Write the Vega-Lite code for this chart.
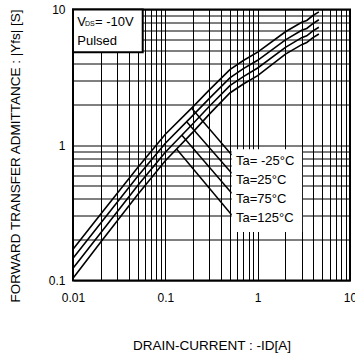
{
  "$schema": "https://vega.github.io/schema/vega-lite/v6.json",
  "width": 277,
  "height": 271,
  "autosize": {"type": "none"},
  "padding": {"left": 73, "top": 9.5, "right": 5, "bottom": 77.5},
  "background": "white",
  "config": {
    "font": "Liberation Sans",
    "view": {"stroke": "black", "strokeWidth": 2},
    "axis": {
      "grid": true, "gridColor": "black", "gridOpacity": 1, "gridWidth": 1,
      "domain": false, "ticks": false,
      "labelColor": "black", "titleColor": "black",
      "labelFont": "Liberation Sans", "titleFont": "Liberation Sans",
      "labelFontSize": 12, "titleFontSize": 13.5, "titleFontWeight": "normal",
      "labelOverlap": false, "labelFlush": false
    }
  },
  "datasets": {
    "curves": [
      {"Id": 0.01, "Yfs": 0.17, "Ta": "-25"}, {"Id": 0.02, "Yfs": 0.31, "Ta": "-25"}, {"Id": 0.05, "Yfs": 0.68, "Ta": "-25"}, {"Id": 0.1, "Yfs": 1.2, "Ta": "-25"}, {"Id": 0.2, "Yfs": 1.92, "Ta": "-25"}, {"Id": 0.3, "Yfs": 2.55, "Ta": "-25"}, {"Id": 0.5, "Yfs": 3.6, "Ta": "-25"}, {"Id": 0.7, "Yfs": 4.2, "Ta": "-25"}, {"Id": 1, "Yfs": 4.85, "Ta": "-25"}, {"Id": 2, "Yfs": 6.85, "Ta": "-25"}, {"Id": 3, "Yfs": 8.05, "Ta": "-25"}, {"Id": 3.4, "Yfs": 8.3, "Ta": "-25"}, {"Id": 3.9, "Yfs": 8.95, "Ta": "-25"}, {"Id": 4.6, "Yfs": 9.6, "Ta": "-25"},
      {"Id": 0.01, "Yfs": 0.146, "Ta": "25"}, {"Id": 0.02, "Yfs": 0.266, "Ta": "25"}, {"Id": 0.05, "Yfs": 0.585, "Ta": "25"}, {"Id": 0.1, "Yfs": 1.03, "Ta": "25"}, {"Id": 0.2, "Yfs": 1.66, "Ta": "25"}, {"Id": 0.3, "Yfs": 2.21, "Ta": "25"}, {"Id": 0.5, "Yfs": 3.13, "Ta": "25"}, {"Id": 0.7, "Yfs": 3.66, "Ta": "25"}, {"Id": 1, "Yfs": 4.22, "Ta": "25"}, {"Id": 2, "Yfs": 5.97, "Ta": "25"}, {"Id": 3, "Yfs": 7.02, "Ta": "25"}, {"Id": 3.4, "Yfs": 7.25, "Ta": "25"}, {"Id": 3.9, "Yfs": 7.8, "Ta": "25"}, {"Id": 4.6, "Yfs": 8.4, "Ta": "25"},
      {"Id": 0.01, "Yfs": 0.123, "Ta": "75"}, {"Id": 0.02, "Yfs": 0.225, "Ta": "75"}, {"Id": 0.05, "Yfs": 0.5, "Ta": "75"}, {"Id": 0.1, "Yfs": 0.885, "Ta": "75"}, {"Id": 0.2, "Yfs": 1.44, "Ta": "75"}, {"Id": 0.3, "Yfs": 1.93, "Ta": "75"}, {"Id": 0.5, "Yfs": 2.74, "Ta": "75"}, {"Id": 0.7, "Yfs": 3.2, "Ta": "75"}, {"Id": 1, "Yfs": 3.7, "Ta": "75"}, {"Id": 2, "Yfs": 5.25, "Ta": "75"}, {"Id": 3, "Yfs": 6.2, "Ta": "75"}, {"Id": 3.4, "Yfs": 6.4, "Ta": "75"}, {"Id": 3.9, "Yfs": 6.9, "Ta": "75"}, {"Id": 4.6, "Yfs": 7.4, "Ta": "75"},
      {"Id": 0.01, "Yfs": 0.104, "Ta": "125"}, {"Id": 0.02, "Yfs": 0.192, "Ta": "125"}, {"Id": 0.05, "Yfs": 0.43, "Ta": "125"}, {"Id": 0.1, "Yfs": 0.765, "Ta": "125"}, {"Id": 0.2, "Yfs": 1.25, "Ta": "125"}, {"Id": 0.3, "Yfs": 1.69, "Ta": "125"}, {"Id": 0.5, "Yfs": 2.42, "Ta": "125"}, {"Id": 0.7, "Yfs": 2.82, "Ta": "125"}, {"Id": 1, "Yfs": 3.25, "Ta": "125"}, {"Id": 2, "Yfs": 4.68, "Ta": "125"}, {"Id": 3, "Yfs": 5.5, "Ta": "125"}, {"Id": 3.4, "Yfs": 5.7, "Ta": "125"}, {"Id": 3.9, "Yfs": 6.15, "Ta": "125"}, {"Id": 4.6, "Yfs": 6.6, "Ta": "125"}
    ],
    "leaders": [
      {"x": 0.193, "y": 1.866, "x2": 0.524, "y2": 0.844},
      {"x": 0.171, "y": 1.48, "x2": 0.524, "y2": 0.618},
      {"x": 0.151, "y": 1.18, "x2": 0.524, "y2": 0.44},
      {"x": 0.133, "y": 0.93, "x2": 0.524, "y2": 0.304}
    ],
    "labelbox": [{"x": 0.524, "x2": 3.03, "y": 0.228, "y2": 0.93}],
    "labels": [
      {"x": 0.583, "y": 0.762, "t": "Ta= -25°C"},
      {"x": 0.583, "y": 0.552, "t": "Ta=25°C"},
      {"x": 0.583, "y": 0.40, "t": "Ta=75°C"},
      {"x": 0.583, "y": 0.289, "t": "Ta=125°C"}
    ],
    "condbox": [{"x": 0.01, "x2": 0.0569, "y": 4.83, "y2": 10}],
    "condtext": [
      {"x": 0.01113, "y": 8.13, "t": "V"},
      {"x": 0.0173, "y": 8.13, "t": "=  -10V"},
      {"x": 0.01113, "y": 5.89, "t": "Pulsed"}
    ],
    "condsub": [
      {"x": 0.01345, "y": 7.75, "t": "DS"}
    ]
  },
  "layer": [
    {
      "data": {"name": "curves"},
      "mark": {"type": "line", "color": "black", "strokeWidth": 1.6},
      "encoding": {
        "x": {
          "field": "Id", "type": "quantitative",
          "scale": {"type": "log", "domain": [0.01, 10], "nice": false},
          "axis": {
            "title": "DRAIN-CURRENT : -ID[A]",
            "values": [0.01,0.02,0.03,0.04,0.05,0.06,0.07,0.08,0.09,0.1,0.2,0.3,0.4,0.5,0.6,0.7,0.8,0.9,1,2,3,4,5,6,7,8,9,10],
            "labelExpr": "datum.value == 0.01 || datum.value == 0.1 || datum.value == 1 || datum.value == 10 ? format(datum.value, '~g') : ''",
            "labelPadding": 12, "titlePadding": 35
          }
        },
        "y": {
          "field": "Yfs", "type": "quantitative",
          "scale": {"type": "log", "domain": [0.1, 10], "nice": false},
          "axis": {
            "title": "FORWARD TRANSFER  ADMITTANCE : |Yfs| [S]",
            "values": [0.1,0.2,0.3,0.4,0.5,0.6,0.7,0.8,0.9,1,2,3,4,5,6,7,8,9,10],
            "labelExpr": "datum.value == 0.1 || datum.value == 1 || datum.value == 10 ? format(datum.value, '~g') : ''",
            "labelPadding": 8, "titlePadding": 26, "titleY": 146
          }
        },
        "detail": {"field": "Ta"}
      }
    },
    {
      "data": {"name": "leaders"},
      "mark": {"type": "rule", "color": "black", "strokeWidth": 1.5},
      "encoding": {
        "x": {"field": "x", "type": "quantitative"},
        "y": {"field": "y", "type": "quantitative"},
        "x2": {"field": "x2"},
        "y2": {"field": "y2"}
      }
    },
    {
      "data": {"name": "labelbox"},
      "mark": {"type": "rect", "fill": "white", "strokeWidth": 0},
      "encoding": {
        "x": {"field": "x", "type": "quantitative"},
        "x2": {"field": "x2"},
        "y": {"field": "y", "type": "quantitative"},
        "y2": {"field": "y2"}
      }
    },
    {
      "data": {"name": "labels"},
      "mark": {"type": "text", "align": "left", "baseline": "middle", "fontSize": 13, "color": "black", "font": "Liberation Sans"},
      "encoding": {
        "x": {"field": "x", "type": "quantitative"},
        "y": {"field": "y", "type": "quantitative"},
        "text": {"field": "t"}
      }
    },
    {
      "data": {"name": "condbox"},
      "mark": {"type": "rect", "fill": "white", "stroke": "black", "strokeWidth": 2},
      "encoding": {
        "x": {"field": "x", "type": "quantitative"},
        "x2": {"field": "x2"},
        "y": {"field": "y", "type": "quantitative"},
        "y2": {"field": "y2"}
      }
    },
    {
      "data": {"name": "condtext"},
      "mark": {"type": "text", "align": "left", "baseline": "middle", "fontSize": 13, "color": "black", "font": "Liberation Sans"},
      "encoding": {
        "x": {"field": "x", "type": "quantitative"},
        "y": {"field": "y", "type": "quantitative"},
        "text": {"field": "t"}
      }
    },
    {
      "data": {"name": "condsub"},
      "mark": {"type": "text", "align": "left", "baseline": "middle", "fontSize": 7, "color": "black", "font": "Liberation Sans"},
      "encoding": {
        "x": {"field": "x", "type": "quantitative"},
        "y": {"field": "y", "type": "quantitative"},
        "text": {"field": "t"}
      }
    }
  ]
}
